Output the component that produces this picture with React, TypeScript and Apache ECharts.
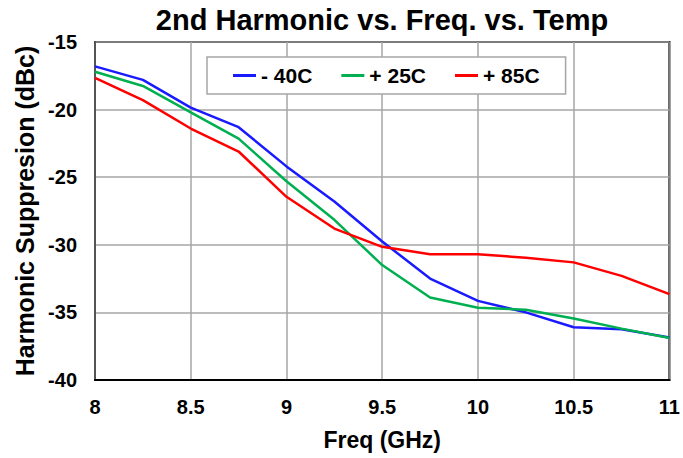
import React, { useEffect, useRef } from "react";
import * as echarts from "echarts";

const freqs = [8, 8.25, 8.5, 8.75, 9, 9.25, 9.5, 9.75, 10, 10.25, 10.5, 10.75, 11];
const minus40 = [-16.8, -17.8, -19.85, -21.3, -24.2, -26.8, -29.75, -32.5, -34.15, -35.0, -36.1, -36.25, -36.85];
const plus25 = [-17.2, -18.25, -20.2, -22.15, -25.3, -28.15, -31.5, -33.9, -34.65, -34.8, -35.45, -36.2, -36.9];
const plus85 = [-17.65, -19.3, -21.4, -23.1, -26.45, -28.8, -30.15, -30.7, -30.7, -30.95, -31.3, -32.3, -33.65];
const seriesNames = ["- 40C", "+ 25C", "+ 85C"];
const seriesColors = ["#1a1aff", "#00b050", "#ff0000"];

const pair = (ys: number[]) => freqs.map((f, i) => [f, ys[i]]);

export default function App() {
  const ref = useRef<HTMLDivElement>(null);
  useEffect(() => {
    if (!ref.current) return;
    const chart = echarts.init(ref.current, undefined, { renderer: "svg" });
    const font = "'Liberation Sans', Arial, sans-serif";
    const datasets = [minus40, plus25, plus85];
    chart.setOption({
      animation: false,
      backgroundColor: "#ffffff",
      textStyle: { fontFamily: font, color: "#000" },
      title: {
        text: "2nd Harmonic vs. Freq. vs. Temp",
        left: 382,
        textAlign: "center",
        top: 5,
        padding: 0,
        textStyle: { fontFamily: font, fontSize: 29, fontWeight: "bold", color: "#000" },
      },
      legend: {
        left: 207,
        top: 57,
        padding: [8, 26, 8, 26],
        backgroundColor: "#fff",
        borderColor: "#a6a6a6",
        borderWidth: 1.5,
        icon: "rect",
        itemWidth: 23,
        itemHeight: 3,
        itemGap: 29,
        data: seriesNames,
        textStyle: { fontFamily: font, fontSize: 21, fontWeight: "bold", color: "#000" },
      },
      grid: {
        left: 95,
        top: 42,
        width: 575,
        height: 338,
        show: true,
        borderColor: "#000",
        borderWidth: 2,
        backgroundColor: "transparent",
      },
      xAxis: {
        type: "value",
        min: 8,
        max: 11,
        interval: 0.5,
        name: "Freq (GHz)",
        nameLocation: "middle",
        nameGap: 48,
        nameTextStyle: { fontFamily: font, fontSize: 23, fontWeight: "bold", color: "#000" },
        axisLine: { show: true, lineStyle: { color: "#000", width: 2 } },
        axisTick: { show: false },
        axisLabel: { margin: 17, fontFamily: font, fontSize: 20, fontWeight: "bold", color: "#000" },
        splitLine: { show: true, lineStyle: { color: "#a6a6a6", width: 1.5 } },
      },
      yAxis: {
        type: "value",
        min: -40,
        max: -15,
        interval: 5,
        name: "Harmonic Suppresion (dBc)",
        nameLocation: "middle",
        nameGap: 57,
        nameTextStyle: { fontFamily: font, fontSize: 25, fontWeight: "bold", color: "#000" },
        axisLine: { show: true, lineStyle: { color: "#555", width: 2 } },
        axisTick: { show: false },
        axisLabel: { margin: 18, fontFamily: font, fontSize: 20, fontWeight: "bold", color: "#000" },
        splitLine: { show: true, lineStyle: { color: "#a6a6a6", width: 1.5 } },
      },
      series: seriesNames.map((name, i) => ({
        name,
        type: "line",
        data: pair(datasets[i]),
        symbol: "none",
        showSymbol: false,
        color: seriesColors[i],
        lineStyle: { color: seriesColors[i], width: 2.5 },
      })),
    });
    return () => chart.dispose();
  }, []);
  return <div ref={ref} style={{ position: "fixed", left: 0, top: 0, width: 683, height: 458 }} />;
}
